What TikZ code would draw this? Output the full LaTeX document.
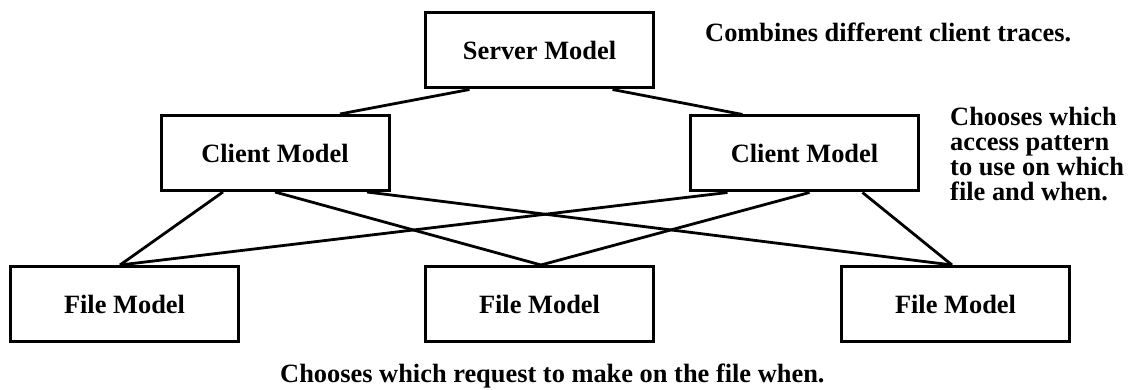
\documentclass[tikz,border=0pt]{standalone}
\usepackage{fontspec}
\setmainfont{Liberation Serif}
\usepackage{tikz}

\tikzset{
  model/.style={draw, line width=3pt, minimum width=228pt, minimum height=75pt,
    inner sep=0pt, font=\bfseries\fontsize{26.4}{25}\selectfont},
  note/.style={inner sep=0pt, font=\bfseries\fontsize{26.4}{25}\selectfont},
  link/.style={line width=2.8pt}
}

\begin{document}
\begin{tikzpicture}[x=1pt, y=-1pt]
            \useasboundingbox (0,0) rectangle (1130,390);
            \node[model] (server) at (539.5,50.5) {Server Model};
            \node[model] (clientA) at (275,153) {Client Model};
            \node[model] (clientB) at (804.5,153.5) {Client Model};
            \node[model] (fileA) at (124.5,304) {File Model};
            \node[model] (fileB) at (539.5,304) {File Model};
            \node[model] (fileC) at (955.5,304) {File Model};
            \node[note, anchor=base west] (combine) at (705,42) {Combines different client traces.};
            \node[note, anchor=north west, align=left] (choose) at (950,107)
              {Chooses which\\access pattern\\to use on which\\file and when.};
            \node[note, anchor=base west] (request) at (280,382) {Chooses which request to make on the file when.};
            \draw[link] ([xshift=-70pt]server.south) -- ([xshift=65pt]clientA.north);
            \draw[link] ([xshift=73pt]server.south) -- ([xshift=-62pt]clientB.north);
            \draw[link] ([xshift=-52pt]clientA.south) -- ([xshift=-4.5pt]fileA.north);
            \draw[link] (clientA.south) -- ([xshift=1.5pt]fileB.north);
            \draw[link] ([xshift=92pt]clientA.south) -- ([xshift=-3.5pt]fileC.north);
            \draw[link] ([xshift=-77pt]clientB.south) -- ([xshift=-4.5pt]fileA.north);
            \draw[link] ([xshift=5pt]clientB.south) -- ([xshift=1.5pt]fileB.north);
            \draw[link] ([xshift=58pt]clientB.south) -- ([xshift=-3.5pt]fileC.north);
        \end{tikzpicture}
\end{document}
